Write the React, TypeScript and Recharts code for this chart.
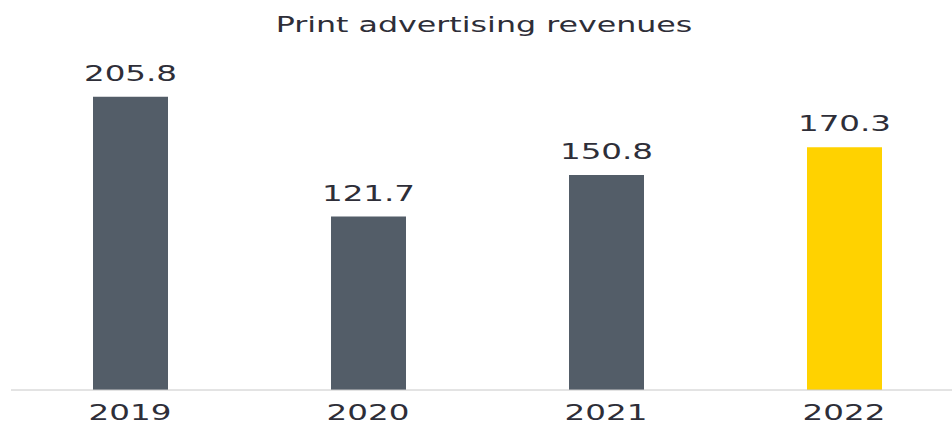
import React from 'react';
import { BarChart, Bar, XAxis, YAxis, Cell, LabelList } from 'recharts';

// Print advertising revenues by year
const years = ['2019', '2020', '2021', '2022'];
const revenues = [205.8, 121.7, 150.8, 170.3];
const barColors = ['#535d68', '#535d68', '#535d68', '#ffd200'];

const data = years.map((year, i) => ({ year, value: revenues[i] }));

const FONT = '"DejaVu Sans", sans-serif';
const TEXT = '#2e2e38';

// the source font is very wide, so stretch DejaVu horizontally
const YearTick = (props: any) => {
  const { x, y, payload } = props;
  return (
    <text
      transform={`translate(${x},${y + 22}) scale(1.55,1)`}
      textAnchor="middle"
      fontFamily={FONT}
      fontSize={21}
      fill={TEXT}
    >
      {payload.value}
    </text>
  );
};

const ValueLabel = (props: any) => {
  const { x, y, width, value } = props;
  return (
    <text
      transform={`translate(${x + width / 2},${y - 16}) scale(1.55,1)`}
      textAnchor="middle"
      fontFamily={FONT}
      fontSize={21}
      fill={TEXT}
    >
      {value.toFixed(1)}
    </text>
  );
};

export default function App() {
  return (
    <div
      style={{
        position: 'absolute',
        left: 0,
        top: 0,
        width: 952,
        height: 425,
        overflow: 'hidden',
        background: '#fff',
      }}
    >
      <div
        style={{
          position: 'absolute',
          left: 0,
          width: 968,
          top: 12,
          textAlign: 'center',
          fontFamily: FONT,
          fontSize: 22,
          color: TEXT,
          transform: 'scaleX(1.44)',
          transformOrigin: '484px 0',
          whiteSpace: 'nowrap',
        }}
      >
        Print advertising revenues
      </div>
      <BarChart
        width={963}
        height={425}
        data={data}
        margin={{ top: 48, right: 0, bottom: 0, left: 11 }}
        barSize={75}
      >
        <XAxis
          dataKey="year"
          height={35}
          axisLine={{ stroke: '#c8c8c8', strokeWidth: 1 }}
          tickLine={false}
          tick={<YearTick />}
          interval={0}
        />
        <YAxis hide domain={[0, 240]} />
        <Bar dataKey="value" isAnimationActive={false}>
          {data.map((d, i) => (
            <Cell key={d.year} fill={barColors[i]} />
          ))}
          <LabelList dataKey="value" content={<ValueLabel />} />
        </Bar>
      </BarChart>
    </div>
  );
}
